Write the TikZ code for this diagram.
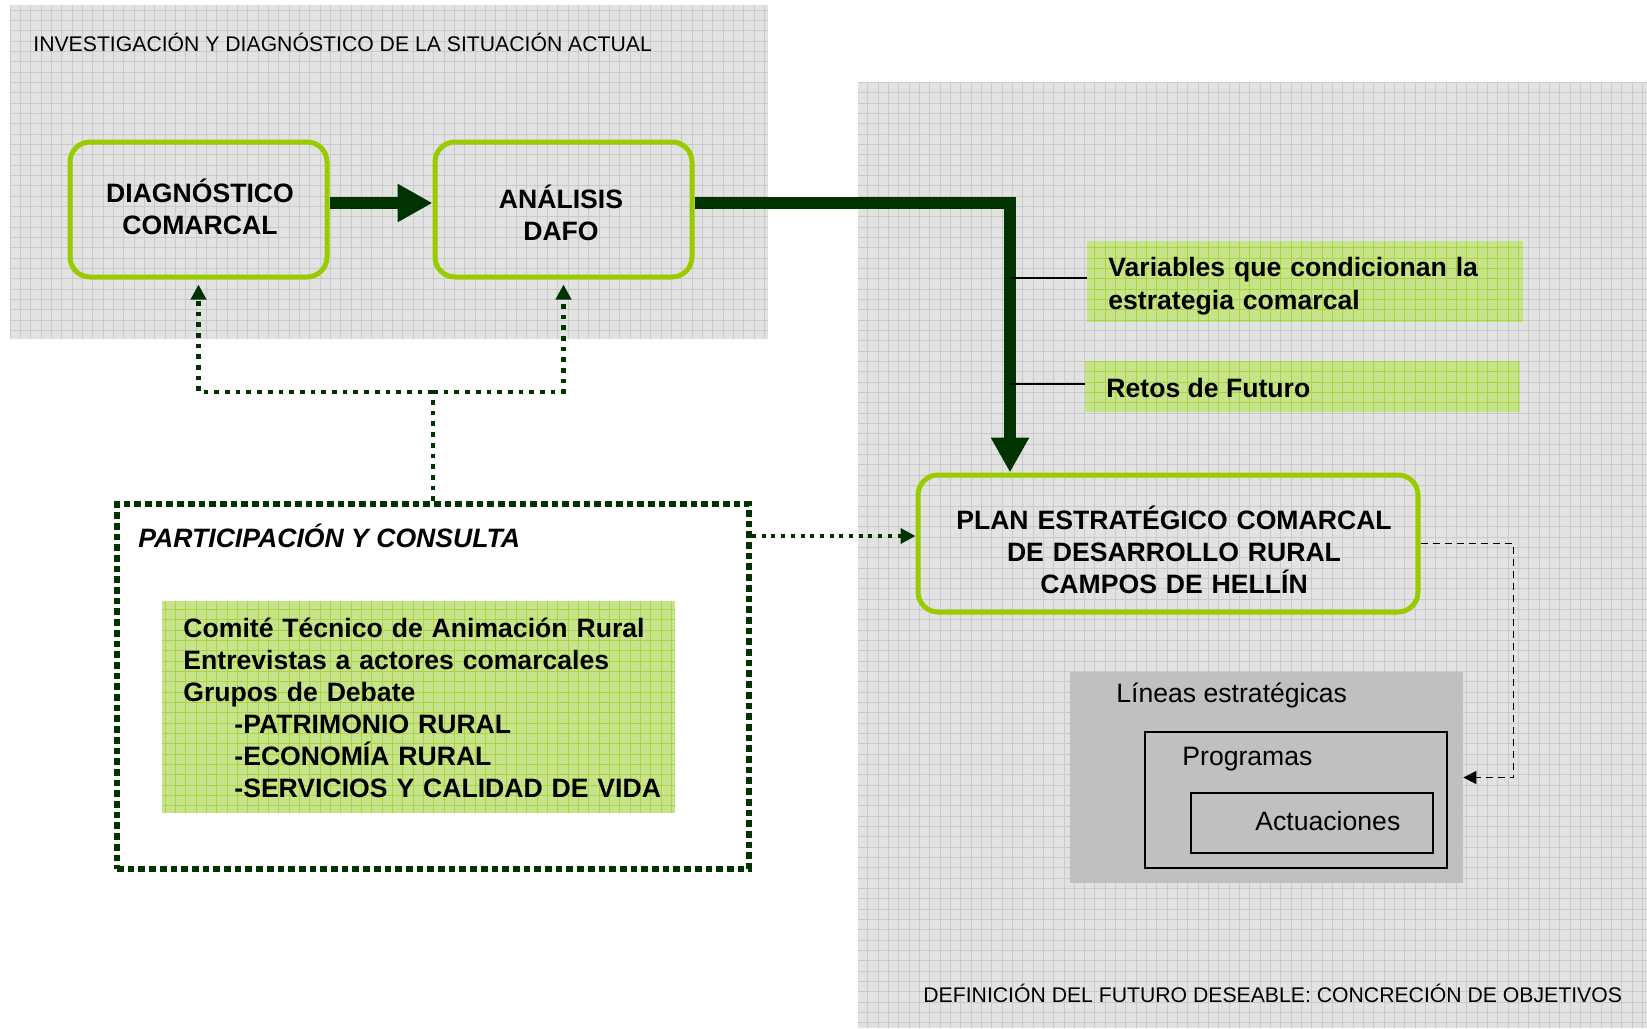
\documentclass[tikz,border=0pt]{standalone}
\usepackage{fontspec}
\setmainfont{Liberation Sans}
\usetikzlibrary{arrows.meta,fit,calc}
\definecolor{panelgray}{HTML}{E2E2E2}
\definecolor{gridgray}{HTML}{CACACA}
\definecolor{limeline}{HTML}{99CC00}
\definecolor{dkgreen}{HTML}{003300}
\definecolor{lightgreen}{HTML}{C8E48A}
\definecolor{gridgreen}{HTML}{A9D447}
\definecolor{boxgray}{HTML}{C0C0C0}
\begin{document}
\begin{tikzpicture}[x=0.5pt,y=-0.5pt,
  gbox/.style={draw=limeline, line width=2.5pt, rounded corners=10pt, inner sep=0pt},
  greenlbl/.style={fill=lightgreen, inner sep=0pt},
  graybox/.style={fill=boxgray, inner sep=0pt},
  blackbox/.style={draw=black, line width=0.75pt, inner sep=0pt},
  partbox/.style={draw=dkgreen, line width=3pt, dash pattern=on 3.35pt off 2pt, inner sep=0pt},
  boldtxt/.style={font=\fontsize{13.3}{16}\selectfont\bfseries, inner sep=0pt},
  regtxt/.style={font=\fontsize{13.3}{16}\selectfont, inner sep=0pt, anchor=base west},
  titletxt/.style={font=\fontsize{10.6}{13}\selectfont, inner sep=0pt, anchor=base west},
  bigarrow/.style={draw=dkgreen, line width=6pt, line join=miter, -{Triangle[length=17.5pt,width=18pt]}},
  dotline/.style={draw=dkgreen, line width=2.3pt, dash pattern=on 2.35pt off 3pt},
  dotarrow/.style={dotline, -{Triangle[length=7.5pt,width=7.5pt]}},
  dasharrow/.style={draw=black, line width=0.75pt, dash pattern=on 3.5pt off 2.5pt, -{Triangle[length=6.5pt,width=6.5pt]}},
  thinline/.style={draw=black, line width=0.75pt},
  gridlines/.style={draw=gridgray, line width=0.5pt, step=5.165pt},
  greengrid/.style={draw=gridgreen, line width=0.5pt, step=5.165pt}
]
\useasboundingbox (0,0) rectangle (1647,1028);
\fill[white] (0,0) rectangle (1647,1028);

% panels
\fill[panelgray] (10,5) rectangle (768,339);
\draw[gridlines] (10,5) grid (768,339);
\fill[panelgray] (858,82) rectangle (1647,1028);
\draw[gridlines] (858,82) grid (1647,1028);

\node[titletxt] (t1) at (33,51.7) {INVESTIGACIÓN Y DIAGNÓSTICO DE LA SITUACIÓN ACTUAL};
\node[titletxt] (t2) at (923,1002.5) {DEFINICIÓN DEL FUTURO DESEABLE: CONCRECIÓN DE OBJETIVOS};

% main boxes
\node[gbox, fit={(70,142) (327,277)}] (diag) {};
\node[gbox, fit={(435,142) (692,277)}] (anal) {};
\node[gbox, fit={(918,475) (1418,612)}] (plan) {};
\node[boldtxt, text width=130pt, align=center, anchor=base] (diagt) at (200,202) {DIAGNÓSTICO\\COMARCAL};
\node[boldtxt, text width=130pt, align=center, anchor=base] (analt) at (561,208) {ANÁLISIS\\DAFO};
\node[boldtxt, text width=240pt, align=center, anchor=base] (plant) at (1174,529.5) {PLAN ESTRATÉGICO COMARCAL\\DE DESARROLLO RURAL\\CAMPOS DE HELLÍN};

% green labels
\node[greenlbl, fit={(1087,241) (1523,322)}] (var) {};
\draw[greengrid] (1087,241) grid (1523,322);
\node[greenlbl, fit={(1085,361) (1520,412)}] (retos) {};
\draw[greengrid] (1085,361) grid (1520,412);
\node[boldtxt, text width=220pt, align=left, anchor=base west, font=\fontsize{13.3}{16.3}\selectfont\bfseries] (vart) at (1108,276.7) {Variables que condicionan la\\estrategia comarcal};
\node[boldtxt, anchor=base west] (retost) at (1106,397) {Retos de Futuro};

% participation
\node[partbox, fit={(117,504) (749,869)}] (part) {};
\node[boldtxt, anchor=base west, font=\fontsize{13.3}{16}\selectfont\bfseries\itshape] (partt) at (138,547) {PARTICIPACIÓN Y CONSULTA};
\node[greenlbl, fit={(162,601) (675,813)}] (list) {};
\draw[greengrid] (162,601) grid (675,813);
\node[boldtxt, text width=250pt, align=left, anchor=base west] (listt) at (183,637.5) {Comité Técnico de Animación Rural\\
Entrevistas a actores comarcales\\
Grupos de Debate\\
\hspace*{25.5pt}-PATRIMONIO RURAL\\
\hspace*{25.5pt}-ECONOMÍA RURAL\\
\hspace*{25.5pt}-SERVICIOS Y CALIDAD DE VIDA};

% lineas estrategicas
\node[graybox, fit={(1070,672) (1463,883)}] (lineas) {};
\node[blackbox, fit={(1145,732) (1447,868)}] (prog) {};
\node[blackbox, fit={(1191,793) (1433,853)}] (act) {};
\node[regtxt] (lineast) at (1116,702) {Líneas estratégicas};
\node[regtxt] (progt) at (1182,765) {Programas};
\node[regtxt] (actt) at (1255,830) {Actuaciones};

% connectors
\draw[bigarrow] (diag.east |- 0,203) -- (anal.west |- 0,203);
\draw[bigarrow] (anal.east |- 0,203) -| (plan.north -| 1010,0);
\coordinate (s1) at (1010,278);
\coordinate (s2) at (1010,384);
\draw[thinline] (s1) -- (s1 -| var.west);
\draw[thinline] (s2) -- (s2 -| retos.west);
\coordinate (j) at (433,392);
\draw[dotline] (part.north) -- (j);
\draw[dotarrow, shorten >=2.5pt] (j) -| (diag.south);
\draw[dotarrow, shorten >=2.5pt] (j) -| (anal.south);
\draw[dotarrow, line width=2pt, dash pattern=on 2pt off 2.85pt] (part.east |- 0,536) -- (plan.west |- 0,536);
\draw[dasharrow] (plan.east) -- ++(93,0) |- (lineas.east);
\end{tikzpicture}
\end{document}
